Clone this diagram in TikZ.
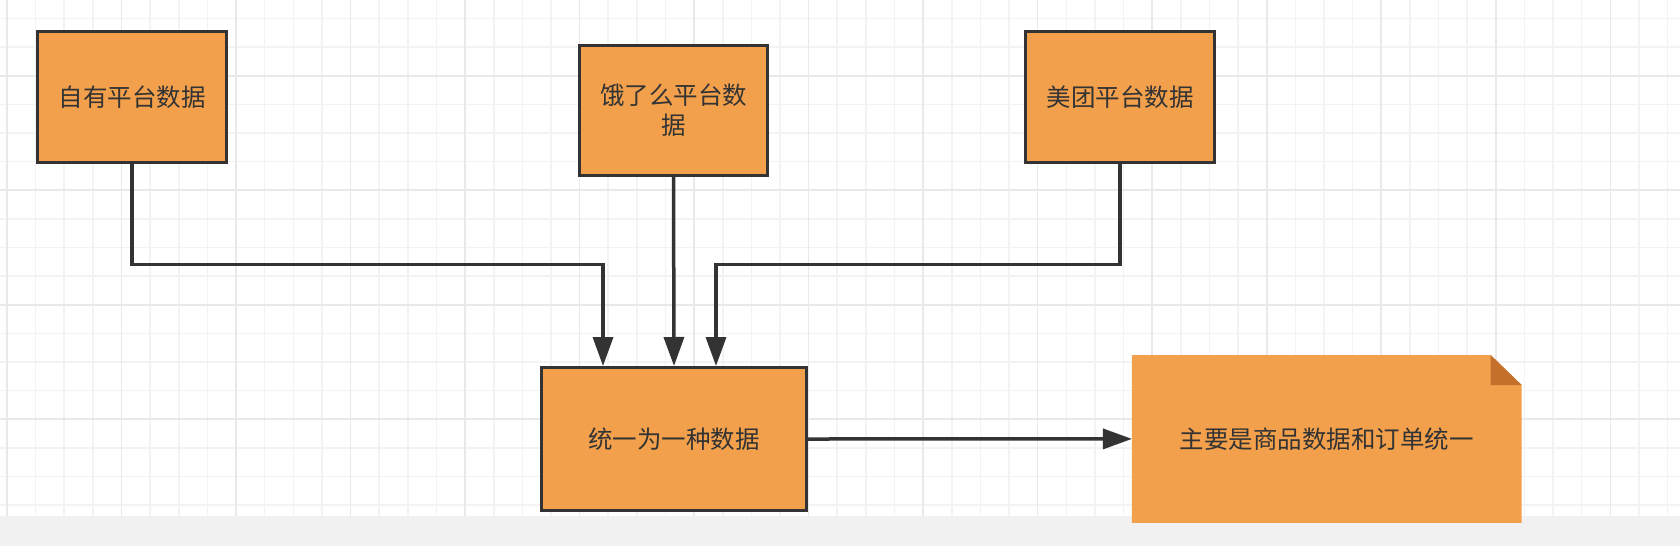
\documentclass[tikz,border=0pt]{standalone}
\usepackage{fontspec}
\newfontfamily\cjk{Noto Sans CJK SC}
\usetikzlibrary{arrows.meta}
\definecolor{boxfill}{HTML}{F2A04C}
\definecolor{foldfill}{HTML}{C4702A}
\definecolor{ink}{HTML}{333333}
\definecolor{gridminor}{HTML}{F3F3F3}
\definecolor{gridmajor}{HTML}{E9E9E9}
\definecolor{strip}{HTML}{F1F1F1}
\tikzset{
  minorline/.style={draw=gridminor, line width=1.6pt},
  majorline/.style={draw=gridmajor, line width=1.6pt},
  databox/.style={draw=ink, fill=boxfill, line width=3pt, align=center,
    text=ink, font=\cjk\fontsize{24.5}{30}\selectfont, inner sep=0pt},
  notebox/.style={inner sep=0pt, outer sep=0pt, text=ink,
    font=\cjk\fontsize{24.5}{30}\selectfont,
    minimum width=389.7pt, minimum height=167.7pt,
    path picture={
      \fill[boxfill] (path picture bounding box.south west) -- (path picture bounding box.north west)
        -- ([xshift=-31pt]path picture bounding box.north east)
        -- ([yshift=-30pt]path picture bounding box.north east)
        -- (path picture bounding box.south east) -- cycle;
      \fill[foldfill] ([xshift=-31pt]path picture bounding box.north east)
        -- ([xshift=-31pt,yshift=-30pt]path picture bounding box.north east)
        -- ([yshift=-30pt]path picture bounding box.north east) -- cycle;
    }},
  conn/.style={draw=ink, line width=3.5pt, -{Triangle[length=29pt,width=20pt]}}
}
\begin{document}
\begin{tikzpicture}[x=1pt,y=-1pt]
\useasboundingbox (0,0) rectangle (1680,546);
\fill[white] (0,0) rectangle (1680,546);
% grid
\foreach \k in {0,...,58} \draw[minorline] ({7+28.63*\k},0) -- ({7+28.63*\k},515.5);
\foreach \k in {0,...,17} \draw[minorline] (0,{18.44+28.63*\k}) -- (1680,{18.44+28.63*\k});
\foreach \k in {0,4,...,56} \draw[majorline] ({7+28.63*\k},0) -- ({7+28.63*\k},515.5);
\foreach \k in {2,6,10,14} \draw[majorline] (0,{18.44+28.63*\k}) -- (1680,{18.44+28.63*\k});
\fill[strip] (0,515.5) rectangle (1680,546);
% boxes
\node[databox, minimum width=189pt, minimum height=131pt] (b1) at (132,97) {自有平台数据};
\node[databox, minimum width=188.5pt, minimum height=130pt] (b2) at (673.5,110.5) {饿了么平台数\\据};
\node[databox, minimum width=265pt, minimum height=143pt] (c) at (674,439) {统一为一种数据};
\node[databox, minimum width=189pt, minimum height=131pt] (b3) at (1120,97) {美团平台数据};
\node[notebox] (note) at (1326.8,438.9) {主要是商品数据和订单统一};
% connectors
\draw[conn] (b1.south) -- ++(0,100.5) -| ([xshift=-71pt]c.north);
\draw[conn] (b2.south) -- (c.north);
\draw[conn] (b3.south) -- ++(0,100.5) -| ([xshift=42pt]c.north);
\draw[conn] (c.east) -- (note.west);
\end{tikzpicture}
\end{document}
